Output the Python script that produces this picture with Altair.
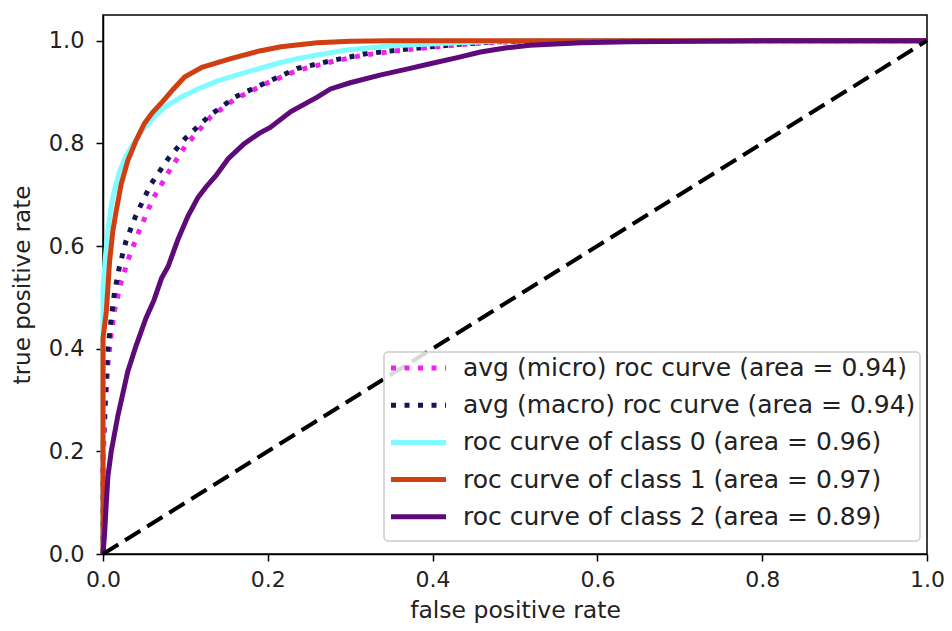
import altair as alt
import pandas as pd

# ---- data ----
micro_fpr = [0.0, 0.0, 0.003, 0.006, 0.010, 0.014, 0.022, 0.032, 0.044, 0.060, 0.080, 0.100, 0.131, 0.160, 0.200, 0.236, 0.280, 0.317, 0.360, 0.397, 0.440, 0.480, 0.550, 1.0]
micro_tpr = [0.0, 0.18, 0.29, 0.37, 0.43, 0.475, 0.53, 0.58, 0.63, 0.69, 0.745, 0.795, 0.852, 0.886, 0.918, 0.942, 0.960, 0.972, 0.981, 0.987, 0.993, 0.997, 1.0, 1.0]

macro_fpr = [0.0, 0.0, 0.003, 0.006, 0.010, 0.014, 0.020, 0.028, 0.040, 0.058, 0.079, 0.100, 0.130, 0.160, 0.200, 0.236, 0.280, 0.317, 0.360, 0.397, 0.440, 0.480, 0.550, 1.0]
macro_tpr = [0.0, 0.20, 0.32, 0.40, 0.46, 0.51, 0.56, 0.61, 0.66, 0.72, 0.77, 0.81, 0.855, 0.89, 0.92, 0.946, 0.962, 0.974, 0.982, 0.988, 0.994, 0.998, 1.0, 1.0]

c0_fpr = [0.0, 0.0, 0.003, 0.006, 0.010, 0.014, 0.020, 0.028, 0.034, 0.045, 0.060, 0.075, 0.095, 0.115, 0.140, 0.175, 0.210, 0.236, 0.260, 0.296, 0.350, 0.417, 0.500, 1.0]
c0_tpr = [0.0, 0.52, 0.58, 0.63, 0.68, 0.71, 0.745, 0.775, 0.792, 0.82, 0.848, 0.871, 0.89, 0.906, 0.922, 0.939, 0.955, 0.965, 0.972, 0.982, 0.99, 0.995, 1.0, 1.0]

c1_fpr = [0.0, 0.0, 0.004, 0.008, 0.012, 0.016, 0.022, 0.030, 0.040, 0.050, 0.060, 0.070, 0.085, 0.099, 0.120, 0.155, 0.190, 0.216, 0.260, 0.300, 0.350, 1.0]
c1_tpr = [0.0, 0.42, 0.472, 0.57, 0.63, 0.668, 0.72, 0.766, 0.805, 0.838, 0.86, 0.877, 0.905, 0.929, 0.948, 0.965, 0.98, 0.988, 0.996, 0.999, 1.0, 1.0]

c2_fpr = [0.0, 0.002, 0.004, 0.006, 0.010, 0.018, 0.030, 0.040, 0.052, 0.062, 0.071, 0.079, 0.091, 0.103, 0.115, 0.125, 0.137, 0.152, 0.171, 0.190, 0.203, 0.228, 0.260, 0.276, 0.300, 0.336, 0.370, 0.397, 0.430, 0.458, 0.490, 0.518, 0.580, 0.639, 0.800, 1.0]
c2_tpr = [0.0, 0.041, 0.10, 0.152, 0.20, 0.269, 0.355, 0.405, 0.459, 0.495, 0.537, 0.56, 0.613, 0.658, 0.694, 0.715, 0.737, 0.77, 0.799, 0.82, 0.831, 0.862, 0.89, 0.906, 0.918, 0.933, 0.945, 0.955, 0.967, 0.978, 0.986, 0.991, 0.996, 0.998, 1.0, 1.0]

diag_fpr = [0.0, 1.0]
diag_tpr = [0.0, 1.0]

labels = [
    "avg (micro) roc curve (area = 0.94)",
    "avg (macro) roc curve (area = 0.94)",
    "roc curve of class 0 (area = 0.96)",
    "roc curve of class 1 (area = 0.97)",
    "roc curve of class 2 (area = 0.89)",
]
colors = ["#ee22ee", "#151550", "#80fbff", "#cf3f12", "#5e0a78"]
dotted = [True, True, False, False, False]

series = [
    (micro_fpr, micro_tpr),
    (macro_fpr, macro_tpr),
    (c0_fpr, c0_tpr),
    (c1_fpr, c1_tpr),
    (c2_fpr, c2_tpr),
]

FONT = "DejaVu Sans"
W, H = 824, 539
xs = alt.Scale(domain=[0, 1], nice=False, zero=False)
ys = alt.Scale(domain=[0, 1.05], nice=False, zero=False)

x_axis = alt.Axis(values=[0, 0.2, 0.4, 0.6, 0.8, 1.0], format=".1f", title="false positive rate",
                  grid=False, tickSize=7, tickColor="black", tickWidth=1.5, domainColor="black",
                  domainWidth=1.5, labelFont=FONT, labelFontSize=22, labelColor="#222",
                  labelFlush=False, labelPadding=8, titleFont=FONT, titleFontSize=23.5,
                  titleFontWeight="normal", titleColor="#222", titlePadding=8)
y_axis = alt.Axis(values=[0, 0.2, 0.4, 0.6, 0.8, 1.0], format=".1f", title="true positive rate",
                  grid=False, tickSize=7, tickColor="black", tickWidth=1.5, domainColor="black",
                  domainWidth=1.5, labelFont=FONT, labelFontSize=22.5, labelColor="#222",
                  labelFlush=False, labelPadding=12, titleFont=FONT, titleFontSize=23,
                  titleFontWeight="normal", titleColor="#222", titlePadding=14)

layers = []
for i, (fx, fy) in enumerate(series):
    df = pd.DataFrame({"fpr": fx, "tpr": fy, "order": list(range(len(fx)))})
    if dotted[i]:
        mk = alt.Chart(df).mark_line(color=colors[i], strokeWidth=5, strokeDash=[5, 8.5], strokeCap="butt")
    else:
        mk = alt.Chart(df).mark_line(color=colors[i], strokeWidth=5)
    enc = mk.encode(
        x=alt.X("fpr:Q", scale=xs, axis=x_axis),
        y=alt.Y("tpr:Q", scale=ys, axis=y_axis),
        order="order:Q",
    )
    layers.append(enc)

diag = alt.Chart(pd.DataFrame({"fpr": diag_fpr, "tpr": diag_tpr})).mark_line(
    color="black", strokeWidth=4, strokeDash=[18, 8]
).encode(x=alt.X("fpr:Q", scale=xs, axis=x_axis), y=alt.Y("tpr:Q", scale=ys, axis=y_axis))
layers.append(diag)

# ---- legend box (pixel positions inside the plot area) ----
box = alt.Chart(pd.DataFrame({"k": [0]})).mark_rect(
    fill="white", fillOpacity=0.85, stroke="#cccccc", strokeWidth=1.5, cornerRadius=4
).encode(x=alt.value(281), x2=alt.value(817), y=alt.value(337), y2=alt.value(526))
layers.append(box)

row0, step = 353, 37.2
for i, lab in enumerate(labels):
    yy = row0 + i * step
    one = pd.DataFrame({"label": [lab]})
    if dotted[i]:
        sym = alt.Chart(one).mark_rule(color=colors[i], strokeWidth=5, strokeDash=[5, 8.5], strokeCap="butt")
    else:
        sym = alt.Chart(one).mark_rule(color=colors[i], strokeWidth=5)
    layers.append(sym.encode(x=alt.value(288), x2=alt.value(343), y=alt.value(yy)))
    txt = alt.Chart(one).mark_text(align="left", baseline="middle", font=FONT, fontSize=25, color="#222").encode(
        x=alt.value(360), y=alt.value(yy), text="label:N")
    layers.append(txt)

chart = alt.layer(*layers).properties(
    width=W, height=H,
    autosize=alt.AutoSizeParams(type="none"),
    padding={"left": 95, "top": 7, "right": 17, "bottom": 69},
    background="white",
).configure_view(stroke="black", strokeWidth=1.5)

chart.save("out.html", embed_options={"renderer": "svg", "actions": False})
